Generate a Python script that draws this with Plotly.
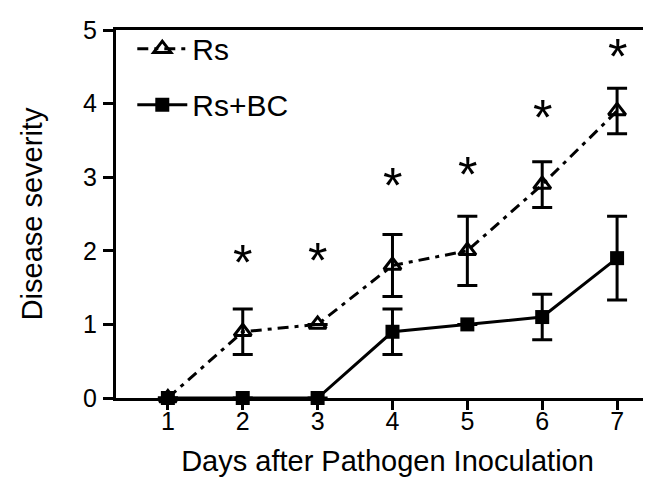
import plotly.graph_objects as go

# --- data ---
days = [1, 2, 3, 4, 5, 6, 7]

rs_mean = [0, 0.9, 1.0, 1.8, 2.0, 2.9, 3.9]
rs_err = [0, 0.31, 0, 0.42, 0.47, 0.31, 0.31]

bc_mean = [0, 0, 0, 0.9, 1.0, 1.1, 1.9]
bc_err = [0, 0, 0, 0.31, 0, 0.31, 0.57]

# significance marks (day, height)
star_days = [2, 3, 4, 5, 6, 7]
star_y = [1.83, 1.86, 2.88, 3.03, 3.8, 4.64]

FONT = "Liberation Sans, Arial, sans-serif"

fig = go.Figure()

fig.add_trace(go.Scatter(
    x=days, y=rs_mean, name="Rs", legendgroup="rs",
    mode="lines+markers",
    line=dict(color="black", width=3, dash="11px,6px,4px,6px"),
    marker=dict(symbol="triangle-up-open", size=15, color="black",
                line=dict(width=3, color="black")),
    error_y=dict(type="data", array=rs_err, visible=True,
                 color="black", thickness=3, width=10),
    cliponaxis=False,
))

fig.add_trace(go.Scatter(
    x=days, y=bc_mean, name="Rs+BC", legendgroup="bc",
    mode="lines+markers",
    line=dict(color="black", width=3),
    marker=dict(symbol="square", size=14, color="black"),
    error_y=dict(type="data", array=bc_err, visible=True,
                 color="black", thickness=3, width=10),
    cliponaxis=False,
))

# asterisks
for d, y in zip(star_days, star_y):
    fig.add_annotation(x=d, y=y, text="*", showarrow=False,
                       font=dict(family=FONT, size=50, color="black"),
                       yshift=0)

fig.update_layout(
    width=651, height=477,
    margin=dict(l=108, r=0, t=22, b=87),
    paper_bgcolor="white", plot_bgcolor="white",
    font=dict(family=FONT, color="black"),
    showlegend=True,
    legend=dict(x=0.03, y=1.02, xanchor="left", yanchor="top",
                font=dict(size=30), tracegroupgap=14, itemwidth=50,
                bgcolor="rgba(0,0,0,0)"),
)

fig.update_xaxes(
    range=[0.307, 7.56], tickvals=days,
    showline=True, linecolor="black", linewidth=3, mirror=True,
    ticks="outside", ticklen=9, tickwidth=3, tickcolor="black",
    tickfont=dict(size=25), ticklabelstandoff=-10,
    showgrid=False, zeroline=False,
    title=dict(text="Days after Pathogen Inoculation",
               font=dict(size=29), standoff=17),
)
fig.update_yaxes(
    range=[0, 5], tickvals=[0, 1, 2, 3, 4, 5],
    showline=True, linecolor="black", linewidth=3,
    ticks="outside", ticklen=10, tickwidth=3, tickcolor="black",
    tickfont=dict(size=25), ticklabelstandoff=1,
    showgrid=False, zeroline=False,
    title=dict(text="Disease severity", font=dict(size=29), standoff=32),
)

fig.write_html("out.html")
